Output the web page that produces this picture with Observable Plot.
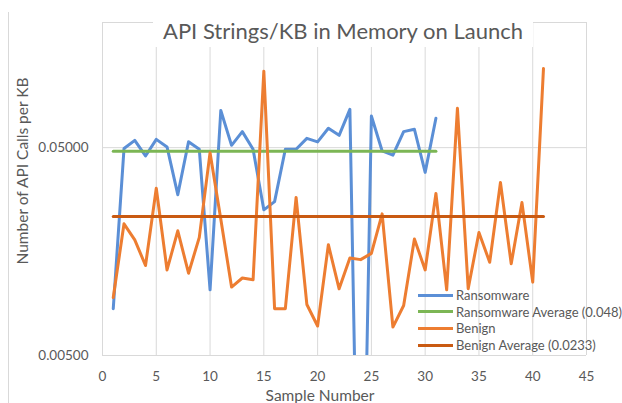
<!DOCTYPE html>
<html><head><meta charset="utf-8">
<script src="https://cdn.jsdelivr.net/npm/d3@7"></script>
<script src="https://cdn.jsdelivr.net/npm/@observablehq/plot@0.6"></script>
<style>
body{margin:0;background:#fff;font-family:Lato,"Open Sans",sans-serif;}
#wrap{position:relative;width:622px;height:403px;overflow:hidden;background:#fff;}
#wrap svg{position:absolute;left:0;top:0;}
#border{position:absolute;left:8px;top:12px;bottom:0;border-left:1px solid #d9d9d9;}
#title{position:absolute;left:153px;top:12px;width:380px;height:35px;background:#fff;text-align:center;font-size:22px;color:#595959;line-height:38px;white-space:nowrap;}
#ylab{position:absolute;left:22px;top:171px;transform:translate(-50%,-50%) rotate(-90deg);font-size:15.5px;color:#595959;white-space:nowrap;}
#xlab{position:absolute;left:320px;top:395px;transform:translate(-50%,-50%);font-size:15.5px;color:#595959;white-space:nowrap;}
#legend{position:absolute;left:418px;top:287px;font-size:13px;color:#595959;}
#legend .row{display:flex;align-items:center;height:16.6px;white-space:nowrap;}
#legend .sw{width:35px;height:3px;margin-right:3px;}
</style></head>
<body>
<div id="wrap">
  <div id="border"></div>
  <div id="chart"></div>
  <div id="title">API Strings/KB in Memory on Launch</div>
  <div id="ylab">Number of API Calls per KB</div>
  <div id="xlab">Sample Number</div>
  <div id="legend"></div>
</div>
<script>
// Values (sample 1..N)
const ransomware = [0.0084,0.0495,0.0542,0.0456,0.0548,0.0504,0.0297,0.0534,0.0491,0.01035,
  0.0755,0.0513,0.0597,0.0491,0.0251,0.0275,0.0491,0.0491,0.0554,0.0533,
  0.062,0.0573,0.0764,0.00013,0.071,0.0482,0.046,0.0597,0.0613,0.038,0.0692];
const benign = [0.0095,0.0215,0.018,0.01355,0.0319,0.0129,0.0199,0.01244,0.0185,0.0473,
  0.0226,0.01067,0.0118,0.01156,0.1167,0.0084,0.0084,0.0288,0.0088,0.00693,
  0.01706,0.01047,0.01473,0.01446,0.0155,0.024,0.00685,0.0087,0.01817,0.0129,
  0.0301,0.01035,0.0773,0.01047,0.01955,0.01404,0.034,0.0138,0.0272,0.01127,0.120];
const ransomwareAvg = 0.048;
const benignAvg = 0.0233;
const seriesNames = ["Ransomware","Ransomware Average (0.048)","Benign","Benign Average (0.0233)"];
const seriesColors = ["#5B8FD6","#7CB655","#ED7D31","#C95A12"];
const xTicks = [0,5,10,15,20,25,30,35,40,45];
const yTicks = [0.005,0.05];
const yGrid = [0.005,0.05,0.2];
const yDomain = [0.005,0.2];

const rData = ransomware.map((v,i)=>({x:i+1,y:v}));
const bData = benign.map((v,i)=>({x:i+1,y:v}));
const rAvgData = [{x:1,y:ransomwareAvg},{x:ransomware.length,y:ransomwareAvg}];
const bAvgData = [{x:1,y:benignAvg},{x:benign.length,y:benignAvg}];

const chart = Plot.plot({
  width:622, height:403,
  marginLeft:102, marginRight:36, marginTop:22, marginBottom:48,
  style:{fontFamily:"Lato, 'Open Sans', sans-serif", fontSize:"13.5px", color:"#595959", background:"transparent", overflow:"visible"},
  x:{domain:[0,45], ticks:xTicks, tickSize:0, tickPadding:16, label:null},
  y:{type:"log", domain:yDomain, ticks:yTicks, tickFormat:d3.format(".5f"), tickSize:0, tickPadding:14, label:null},
  marks:[
    Plot.ruleX(xTicks,{stroke:"#d9d9d9", strokeWidth:1}),
    Plot.ruleY(yGrid,{stroke:"#d9d9d9", strokeWidth:1}),
    Plot.line(rData,{x:"x",y:"y",stroke:seriesColors[0],strokeWidth:3,clip:true,strokeLinejoin:"round"}),
    Plot.line(rAvgData,{x:"x",y:"y",stroke:seriesColors[1],strokeWidth:3}),
    Plot.line(bData,{x:"x",y:"y",stroke:seriesColors[2],strokeWidth:3,clip:true,strokeLinejoin:"round"}),
    Plot.line(bAvgData,{x:"x",y:"y",stroke:seriesColors[3],strokeWidth:3})
  ]
});
document.getElementById("chart").appendChild(chart);

const legend = d3.select("#legend");
seriesNames.forEach((n,i)=>{
  const row = legend.append("div").attr("class","row");
  row.append("div").attr("class","sw").style("background",seriesColors[i]);
  row.append("span").text(n);
});
</script>
</body></html>
